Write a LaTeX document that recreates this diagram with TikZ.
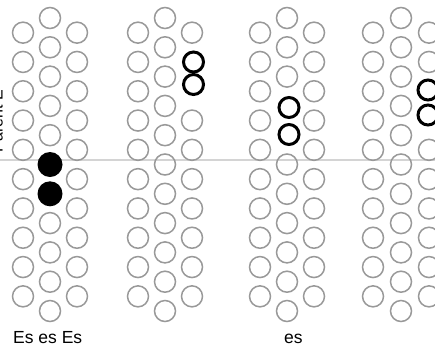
\documentclass[tikz,border=0pt]{standalone}
\usepackage{fontspec}
\setmainfont{Liberation Sans}
\newcommand\ringcol[3]{\foreach \k in {#3}{\draw[gr] (#1,{#2+29.3*\k}) circle[radius=10.5];}}
\begin{document}
\begin{tikzpicture}[x=1pt,y=-1pt,
  gr/.style={draw=black!40, line width=1.5pt},
  boldring/.style={draw=black, line width=3pt},
  dot/.style={fill=black},
  lab/.style={font=\fontsize{17.5}{20}\selectfont, inner sep=0pt},
  sidelab/.style={font=\fontsize{16}{18}\selectfont, inner sep=0pt, rotate=90, anchor=base east}]
\useasboundingbox (0,0) rectangle (435,346);
\fill[white] (0,0) rectangle (435,346);
% horizontal guide line
\draw[black!17, line width=2.8pt] (0,160) -- (435,160);
% group 1
\ringcol{23}{32.65}{0,...,9}
\ringcol{50}{18}{0,...,10}
\ringcol{77}{32.65}{0,...,9}
\fill[dot] (50,164.5) circle[radius=12.5];
\fill[dot] (50,193.8) circle[radius=12.5];
% group 2
\ringcol{138}{32.65}{0,...,9}
\ringcol{165}{18}{0,...,10}
\ringcol{192}{32.65}{0,3,4,...,9}
\draw[boldring] (193.5,62) circle[radius=10];
\draw[boldring] (193.5,84.5) circle[radius=10];
% group 3
\ringcol{260}{32.65}{0,...,9}
\ringcol{287}{18}{0,1,2,5,6,...,10}
\ringcol{314}{32.65}{0,...,9}
\draw[boldring] (289,107.5) circle[radius=10];
\draw[boldring] (289,134.5) circle[radius=10];
% group 4
\ringcol{373}{32.65}{0,...,9}
\ringcol{401}{18}{0,...,10}
\ringcol{429}{32.65}{0,1,4,5,...,9}
\draw[boldring] (428,90) circle[radius=10];
\draw[boldring] (428,115) circle[radius=10];
% labels
\node[lab, anchor=base west] (t1) at (13,343) {Es es Es};
\node[lab, anchor=base west] (t2) at (284,343) {es};
\node[sidelab] (t3) at (2.5,90) {Parent E};
\end{tikzpicture}
\end{document}
